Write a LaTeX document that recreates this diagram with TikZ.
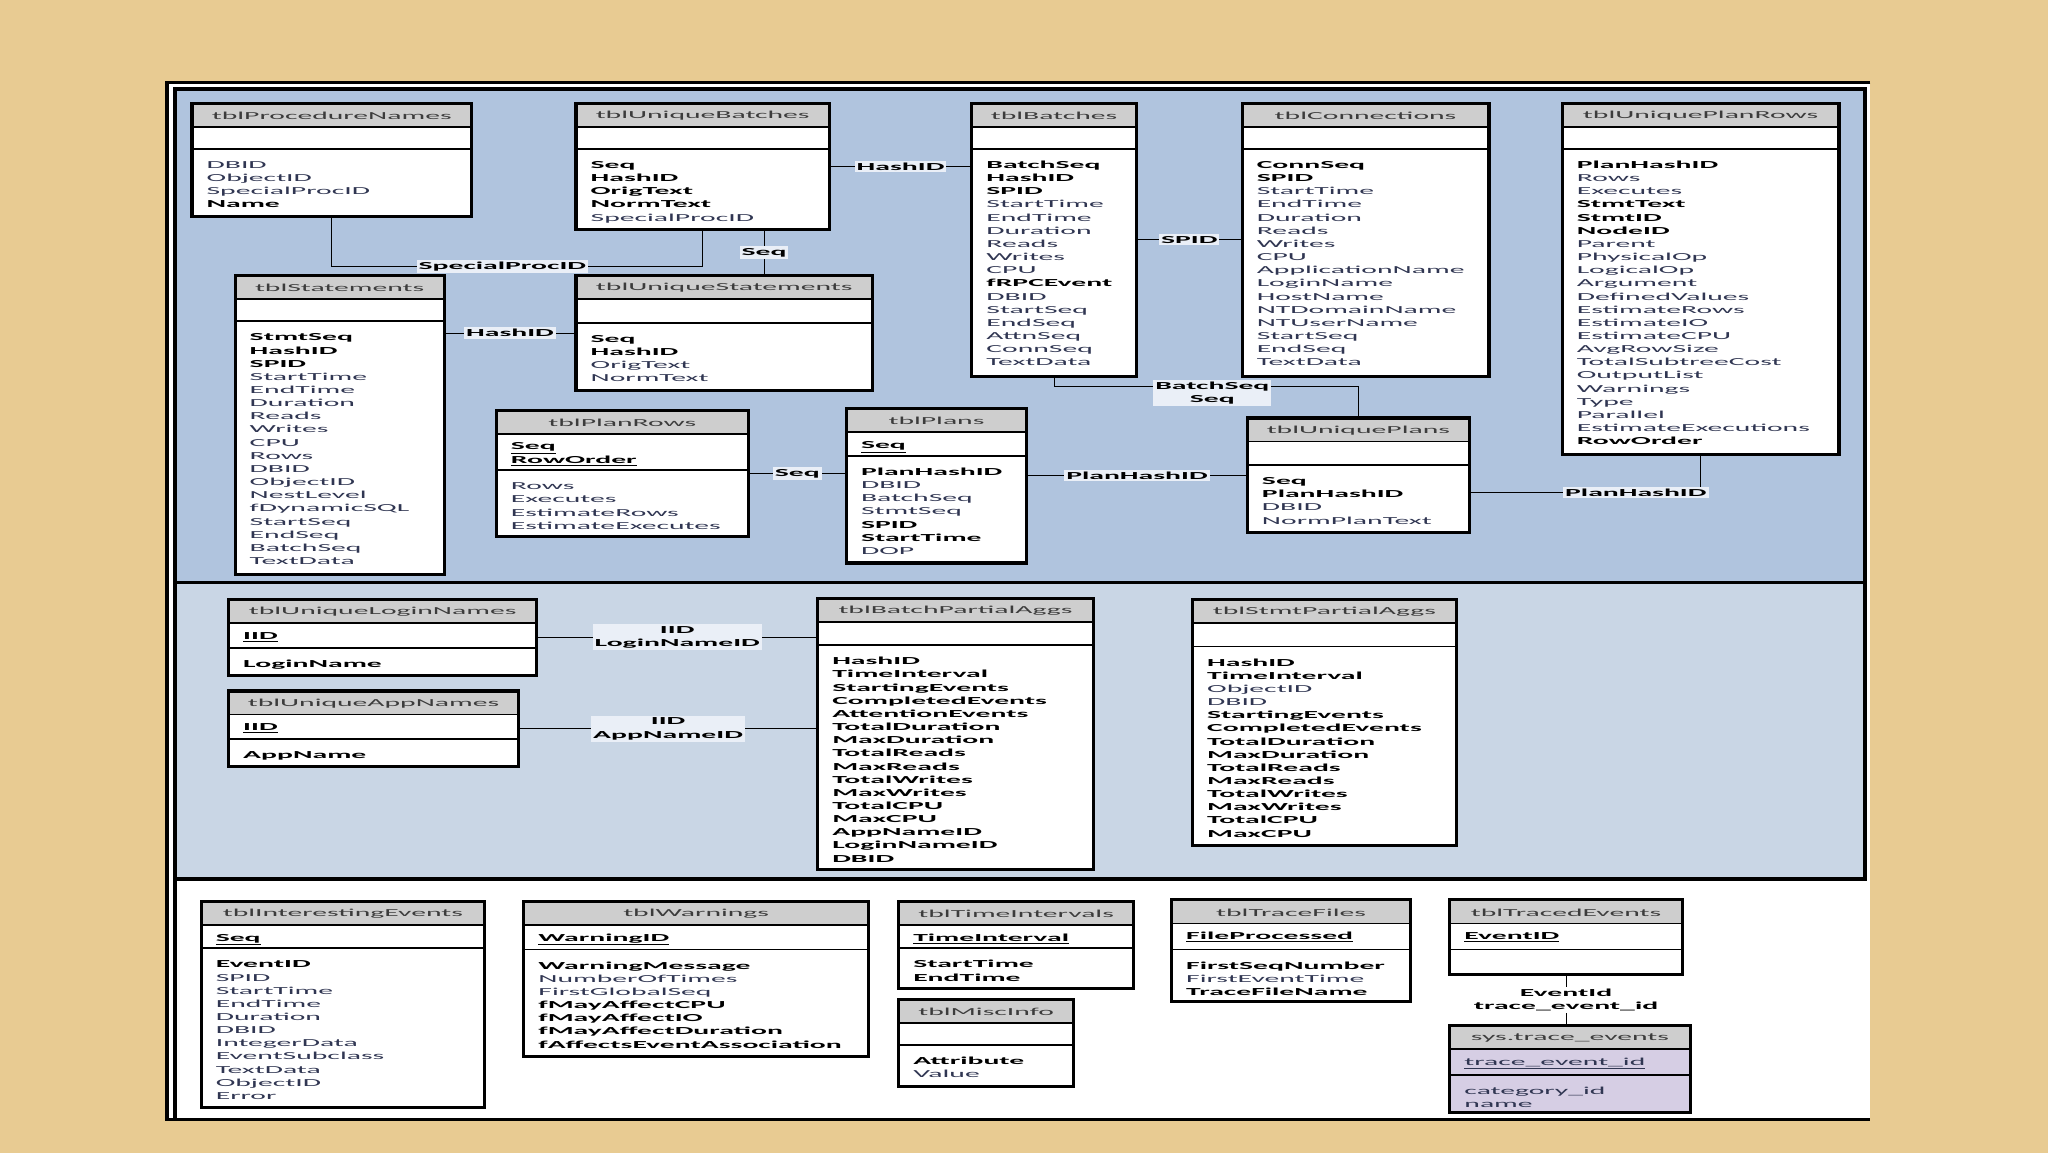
\documentclass[tikz,border=0pt]{standalone}
\usepackage{fontspec}
\setmainfont{Carlito}[FakeStretch=2.77]
\usepackage{tikz}
\usetikzlibrary{positioning, calc}

\definecolor{woodbg}{RGB}{232,203,146}
\definecolor{panelblue}{RGB}{176,196,222}
\definecolor{panelpale}{RGB}{201,214,229}
\definecolor{headgray}{RGB}{206,206,206}
\definecolor{titlegray}{RGB}{60,60,60}
\definecolor{fieldnavy}{RGB}{48,54,82}
\definecolor{lblbg}{RGB}{234,239,247}
\definecolor{lavender}{RGB}{214,206,228}

\newcommand{\tblfont}{\fontsize{8.2}{10.07}\selectfont}
\newcommand{\bfld}[1]{\textbf{\color{black}#1}}
\newcommand{\ufld}[1]{\textcolor{black}{\underline{\textbf{#1}}}}

%% table: name, x, y, width, height, key bottom, title, keys, fields
\newcommand{\dbtable}[9]{%
  \fill[tblbody] (#2,#3) rectangle ++(#4,#5);
  \fill[headgray] (#2,#3) rectangle ++(#4,18);
  \draw[tblsep] (#2,#3+18) -- ++(#4,0);
  \draw[tblsep] (#2,#3+#6) -- ++(#4,0);
  \node[tbltitle] at (#2+#4/2,#3+9.5) {#7};
  \foreach \kfld [count=\row from 0] in {#8}
    \node[field] at (#2+11,#3+30.5+10.07*\row) {\kfld};
  \foreach \fld [count=\row from 0] in {#9}
    \node[field] at (#2+11,#3+#6+15+10.07*\row) {\fld};
  \node[tblbox, minimum width=#4pt, minimum height=#5pt, anchor=north west] (#1) at (#2,#3) {};
}

\begin{document}
\begin{tikzpicture}[
  x=1pt, y=-1pt, font=\tblfont,
  tblbox/.style={draw=black, line width=2.4pt, inner sep=0pt, outer sep=0pt},
  tblbody/.style={fill=white},
  tblsep/.style={draw=black, line width=1.4pt},
  tbltitle/.style={text=titlegray, inner sep=0pt},
  field/.style={anchor=base west, inner sep=0pt, text=fieldnavy},
  panel/.style={draw=black, line width=2.6pt},
  rel/.style={draw=black, line width=0.8pt},
  lbl/.style={font=\tblfont\bfseries, fill=lblbg, inner sep=1.5pt,
    align=center, text=black}
]

%% ── Frame ──
\useasboundingbox (0,0) rectangle (1568,883);
\fill[woodbg] (0,0) rectangle (1568,883);
\fill[white] (128,63) rectangle (1432,857);
\draw[line width=2.6pt] (1432,63) -- (128,63) -- (128,857) -- (1432,857);
\draw[panel, fill=panelblue] (134,68) rectangle (1428,446);
\draw[panel, fill=panelpale] (134,446) rectangle (1428,673);
\draw[panel] (134,673) -- (134,857);

%% ── Trace tables ──
\dbtable{procnames}{147}{79}{214}{87}{35}{tblProcedureNames}{}
  {DBID, ObjectID, SpecialProcID, \bfld{Name}}
\dbtable{ubatches}{441}{79}{194}{97}{35}{tblUniqueBatches}{}
  {\bfld{Seq}, \bfld{HashID}, \bfld{OrigText}, \bfld{NormText}, SpecialProcID}
\dbtable{batches}{744}{79}{126}{209}{35}{tblBatches}{}
  {\bfld{BatchSeq}, \bfld{HashID}, \bfld{SPID}, StartTime, EndTime, Duration,
   Reads, Writes, CPU, \bfld{fRPCEvent}, DBID, StartSeq, EndSeq, AttnSeq,
   ConnSeq, TextData}
\dbtable{connections}{951}{79}{189}{209}{35}{tblConnections}{}
  {\bfld{ConnSeq}, \bfld{SPID}, StartTime, EndTime, Duration, Reads, Writes,
   CPU, ApplicationName, LoginName, HostName, NTDomainName, NTUserName,
   StartSeq, EndSeq, TextData}
\dbtable{uplanrows}{1196}{79}{212}{269}{35}{tblUniquePlanRows}{}
  {\bfld{PlanHashID}, Rows, Executes, \bfld{StmtText}, \bfld{StmtID},
   \bfld{NodeID}, Parent, PhysicalOp, LogicalOp, Argument, DefinedValues,
   EstimateRows, EstimateIO, EstimateCPU, AvgRowSize, TotalSubtreeCost,
   OutputList, Warnings, Type, Parallel, EstimateExecutions, \bfld{RowOrder}}
\dbtable{statements}{180}{211}{160}{229}{35}{tblStatements}{}
  {\bfld{StmtSeq}, \bfld{HashID}, \bfld{SPID}, StartTime, EndTime, Duration,
   Reads, Writes, CPU, Rows, DBID, ObjectID, NestLevel, fDynamicSQL,
   StartSeq, EndSeq, BatchSeq, TextData}
\dbtable{ustatements}{441}{211}{227}{88}{36}{tblUniqueStatements}{}
  {\bfld{Seq}, \bfld{HashID}, OrigText, NormText}
\dbtable{planrows}{380}{314}{193}{97}{46}{tblPlanRows}
  {\ufld{Seq}, \ufld{RowOrder}}
  {Rows, Executes, EstimateRows, EstimateExecutes}
\dbtable{plans}{648}{313}{138}{118}{36}{tblPlans}{\ufld{Seq}}
  {\bfld{PlanHashID}, DBID, BatchSeq, StmtSeq, \bfld{SPID}, \bfld{StartTime}, DOP}
\dbtable{uplans}{955}{320}{170}{88}{36}{tblUniquePlans}{}
  {\bfld{Seq}, \bfld{PlanHashID}, DBID, NormPlanText}

%% ── Aggregates ──
\dbtable{loginnames}{175}{459}{236}{58}{37}{tblUniqueLoginNames}{\ufld{IID}}
  {\bfld{LoginName}}
\dbtable{appnames}{175}{529}{222}{58}{37}{tblUniqueAppNames}{\ufld{IID}}
  {\bfld{AppName}}
\dbtable{batchaggs}{626}{458}{211}{208}{36}{tblBatchPartialAggs}{}
  {\bfld{HashID}, \bfld{TimeInterval}, \bfld{StartingEvents},
   \bfld{CompletedEvents}, \bfld{AttentionEvents}, \bfld{TotalDuration},
   \bfld{MaxDuration}, \bfld{TotalReads}, \bfld{MaxReads}, \bfld{TotalWrites},
   \bfld{MaxWrites}, \bfld{TotalCPU}, \bfld{MaxCPU}, \bfld{AppNameID},
   \bfld{LoginNameID}, \bfld{DBID}}
\dbtable{stmtaggs}{913}{459}{202}{188}{36}{tblStmtPartialAggs}{}
  {\bfld{HashID}, \bfld{TimeInterval}, ObjectID, DBID, \bfld{StartingEvents},
   \bfld{CompletedEvents}, \bfld{TotalDuration}, \bfld{MaxDuration},
   \bfld{TotalReads}, \bfld{MaxReads}, \bfld{TotalWrites}, \bfld{MaxWrites},
   \bfld{TotalCPU}, \bfld{MaxCPU}}

%% ── Lookup tables ──
\dbtable{intevents}{154}{690}{217}{158}{36}{tblInterestingEvents}{\ufld{Seq}}
  {\bfld{EventID}, SPID, StartTime, EndTime, Duration, DBID, IntegerData,
   EventSubclass, TextData, ObjectID, Error}
\dbtable{warnings}{401}{690}{264}{119}{37}{tblWarnings}{\ufld{WarningID}}
  {\bfld{WarningMessage}, NumberOfTimes, FirstGlobalSeq, \bfld{fMayAffectCPU},
   \bfld{fMayAffectIO}, \bfld{fMayAffectDuration}, \bfld{fAffectsEventAssociation}}
\dbtable{timeint}{688}{690}{180}{67}{36}{tblTimeIntervals}{\ufld{TimeInterval}}
  {\bfld{StartTime}, \bfld{EndTime}}
\dbtable{miscinfo}{688}{765}{134}{67}{35}{tblMiscInfo}{}
  {\bfld{Attribute}, Value}
\dbtable{tracefiles}{897}{689}{183}{78}{38}{tblTraceFiles}{\ufld{FileProcessed}}
  {\bfld{FirstSeqNumber}, FirstEventTime, \bfld{TraceFileName}}
\dbtable{tracedevt}{1110}{689}{178}{57}{38}{tblTracedEvents}{\ufld{EventID}}{}
\begin{scope}[tblbody/.style={fill=lavender}]
\dbtable{sysevt}{1110}{785}{184}{67}{38}{sys.trace\_events}
  {\underline{trace\_event\_id}}
  {category\_id, name}
\end{scope}

%% ── Relationships ──
\coordinate (seqdrop) at ([xshift=47pt]ubatches.south);
\draw[rel] (procnames.south) -- ++(0,38) -|
  node[lbl, pos=0.23]{SpecialProcID} (ubatches.south);
\draw[rel] (seqdrop) -- node[lbl]{Seq} (seqdrop |- ustatements.north);
\draw[rel] (ubatches.east) -- node[lbl]{HashID} (ubatches.east -| batches.west);
\draw[rel] (batches.east) -- node[lbl]{SPID} (batches.east -| connections.west);
\draw[rel] (ustatements.west -| statements.east) -- node[lbl]{HashID}
  (ustatements.west);
\draw[rel] (batches.south) -- ++(0,8) -|
  node[lbl, pos=0.26, yshift=-5pt]{BatchSeq\\Seq} (uplans.north);
\draw[rel] (planrows.east) -- node[lbl]{Seq} (planrows.east -| plans.west);
\draw[rel] (uplans.west -| plans.east) -- node[lbl]{PlanHashID} (uplans.west);
\draw[rel] (uplanrows.south) |- node[lbl, pos=0.64]{PlanHashID}
  ([yshift=-13pt]uplans.east);

\draw[rel] (loginnames.east) -- node[lbl]{IID\\LoginNameID}
  (loginnames.east -| batchaggs.west);
\draw[rel] (appnames.east) -- node[lbl]{IID\\AppNameID}
  (appnames.east -| batchaggs.west);

\draw[rel] (tracedevt.south) -- node[lbl, fill=white]{EventId\\trace\_event\_id}
  (tracedevt.south |- sysevt.north);

\end{tikzpicture}
\end{document}
